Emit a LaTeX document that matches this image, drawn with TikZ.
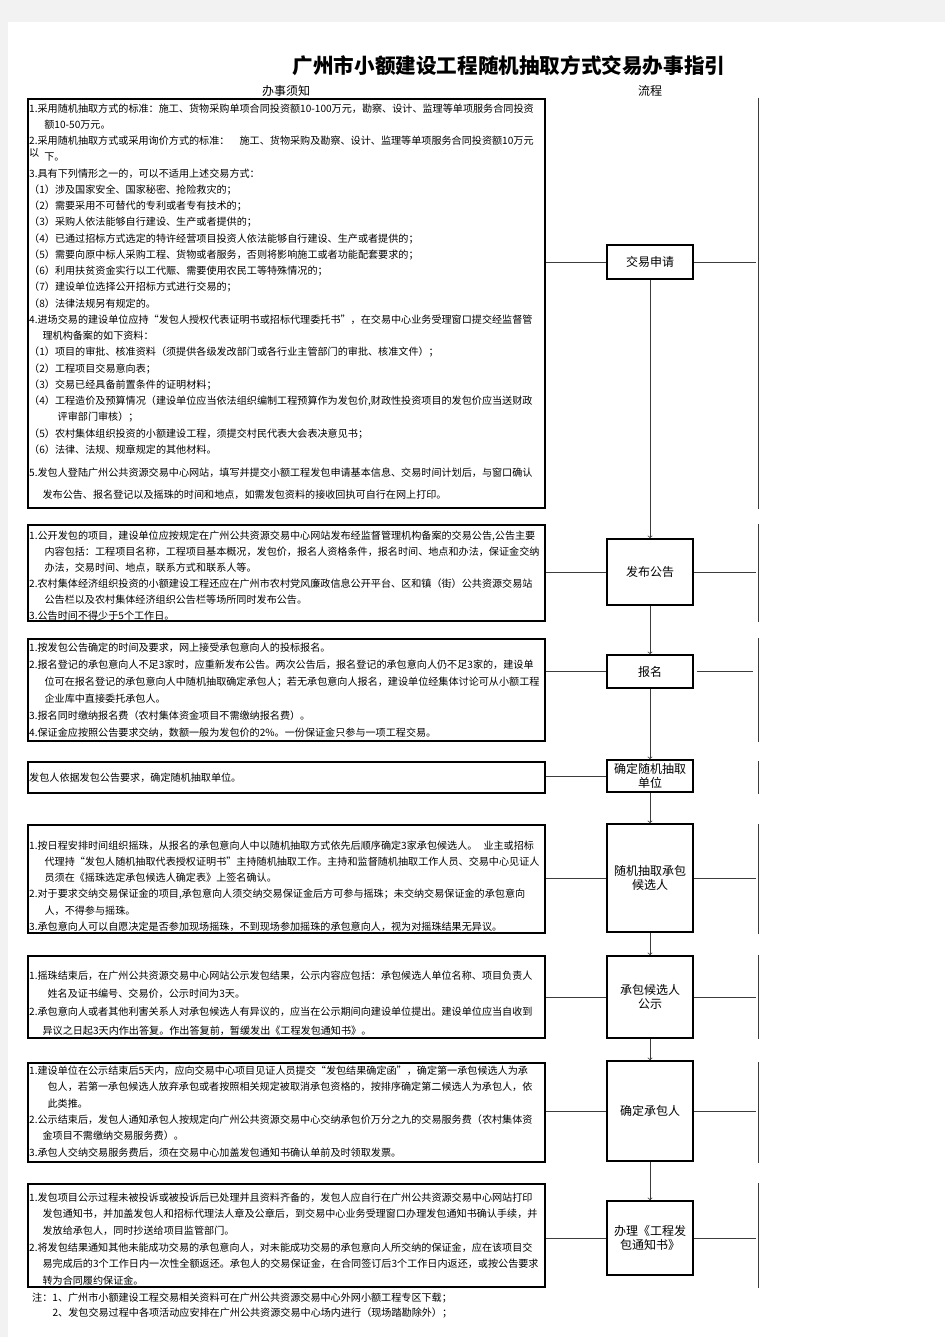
\documentclass[tikz,border=0pt]{standalone}
\usepackage{fontspec}
\setmainfont{Noto Sans CJK SC}

\newcommand{\indt}[1][1.5em]{\hspace*{#1}}

\tikzset{
  notebox/.style={draw=black, line width=1.6pt, minimum width=517, anchor=north west, inner sep=0pt},
  notetext/.style={anchor=north west, inner sep=0pt, align=left, font=\fontsize{10.1}{16.25}\selectfont},
  stepbox/.style={draw=black, line width=1.6pt, fill=white, minimum width=86, inner sep=0pt, align=center, font=\fontsize{12}{14}\selectfont},
  headtext/.style={inner sep=0pt, font=\fontsize{12}{14}\selectfont},
  link/.style={draw={rgb,255:red,60;green,60;blue,60}, line width=0.8pt},
  flowarrow/.style={link, ->},
}

\begin{document}
\begin{tikzpicture}[x=1pt,y=1pt,yscale=-1,xscale=1]
\useasboundingbox (0,0) rectangle (945,1337);
%page margins
\fill [gray!10] (0,0) rectangle (945,1337);
\fill [white] (8,22) rectangle (945,1337);

% Title
\node (title) [inner sep=0pt, font=\fontsize{20.6}{24}\selectfont\bfseries] at (509,66) {广州市小额建设工程随机抽取方式交易办事指引};
\node (headL) [headtext] at (286,91) {办事须知};
\node (headR) [headtext] at (650,91) {流程};

%Shape: notes boxes
\node (b1) [notebox, minimum height=409] at (27,98) {};
\node (b2) [notebox, minimum height=96] at (27,524) {};
\node (b3) [notebox, minimum height=102] at (27,638) {};
\node (b4) [notebox, minimum height=31] at (27,761) {};
\node (b5) [notebox, minimum height=108] at (27,824) {};
\node (b6) [notebox, minimum height=82] at (27,955) {};
\node (b7) [notebox, minimum height=99] at (27,1062) {};
\node (b8) [notebox, minimum height=103] at (27,1183) {};

%Shape: flow steps
\node (f1) [stepbox, minimum height=34] at (650,262) {交易申请};
\node (f2) [stepbox, minimum height=66] at (650,572) {发布公告};
\node (f3) [stepbox, minimum height=33] at (650,671.5) {报名};
\node (f4) [stepbox, minimum height=32] at (650,776) {确定随机抽取\\单位};
\node (f5) [stepbox, minimum height=108] at (650,878) {随机抽取承包\\候选人};
\node (f6) [stepbox, minimum height=82] at (650,997) {承包候选人\\公示};
\node (f7) [stepbox, minimum height=100] at (650,1111) {确定承包人};
\node (f8) [stepbox, minimum height=74] at (650,1238) {办理《工程发\\包通知书》};

\coordinate (rx) at (758,0);
\coordinate (rh) at (756,0);

%Straight Lines: flow arrows
\draw [flowarrow] (f1) -- (f2);
\draw [flowarrow] (f2) -- (f3);
\draw [flowarrow] (f3) -- (f4);
\draw [flowarrow] (f4) -- (f5);
\draw [flowarrow] (f5) -- (f6);
\draw [flowarrow] (f6) -- (f7);
\draw [flowarrow] (f7) -- (f8);

%Straight Lines: notes to steps
\draw [link] (b1.east |- f1.west) -- (f1.west);
\draw [link] (b2.east |- f2.west) -- (f2.west);
\draw [link] (b3.east |- f3.west) -- (f3.west);
\draw [link] (b4.east |- f4.west) -- (f4.west);
\draw [link] (b5.east |- f5.west) -- (f5.west);
\draw [link] (b6.east |- f6.west) -- (f6.west);
\draw [link] (b7.east |- f7.west) -- (f7.west);
\draw [link] (b8.east |- f8.west) -- (f8.west);

%Straight Lines: steps to right column
\draw [link] (f1.east) -- (f1.east -| rh);
\draw [link] (f2.east) -- (f2.east -| rh);
\draw [link] ([xshift=3]f3.east) -- ++(56,0);
\draw [link] (f5.east) -- (f5.east -| rh);
\draw [link] (f6.east) -- (f6.east -| rh);
\draw [link] (f7.east) -- (f7.east -| rh);
\draw [link] (f8.east) -- (f8.east -| rh);

%Straight Lines: right column
\draw [link] (b1.north -| rx) -- (b1.south -| rx);
\draw [link] (b2.north -| rx) -- (b2.south -| rx);
\draw [link] (b3.north -| rx) -- (b3.south -| rx);
\draw [link] (b4.north -| rx) -- (b4.south -| rx);
\draw [link] (b5.north -| rx) -- (b5.south -| rx);
\draw [link] (b6.north -| rx) -- (b6.south -| rx);
\draw [link] (b7.north -| rx) -- (b7.south -| rx);
\draw [link] (b8.north -| rx) -- (b8.south -| rx);

% Text Node
\node (t1) [notetext] at (29,103.5) {1.采用随机抽取方式的标准：施工、货物采购单项合同投资额10-100万元，勘察、设计、监理等单项服务合同投资\\
\indt 额10-50万元。\\
2.采用随机抽取方式或采用询价方式的标准：　施工、货物采购及勘察、设计、监理等单项服务合同投资额10万元\\
\raisebox{4pt}{以}\hspace{5pt}下。\\
3.具有下列情形之一的，可以不适用上述交易方式：\\
（1）涉及国家安全、国家秘密、抢险救灾的；\\
（2）需要采用不可替代的专利或者专有技术的；\\
（3）采购人依法能够自行建设、生产或者提供的；\\
（4）已通过招标方式选定的特许经营项目投资人依法能够自行建设、生产或者提供的；\\
（5）需要向原中标人采购工程、货物或者服务，否则将影响施工或者功能配套要求的；\\
（6）利用扶贫资金实行以工代赈、需要使用农民工等特殊情况的；\\
（7）建设单位选择公开招标方式进行交易的；\\
（8）法律法规另有规定的。\\
4.进场交易的建设单位应持“发包人授权代表证明书或招标代理委托书”，在交易中心业务受理窗口提交经监督管\\
\indt[1.1em] 理机构备案的如下资料：\\
（1）项目的审批、核准资料（须提供各级发改部门或各行业主管部门的审批、核准文件）；\\
（2）工程项目交易意向表；\\
（3）交易已经具备前置条件的证明材料；\\
（4）工程造价及预算情况（建设单位应当依法组织编制工程预算作为发包价,财政性投资项目的发包价应当送财政\\
\indt[2.6em] 评审部门审核）；\\
（5）农村集体组织投资的小额建设工程，须提交村民代表大会表决意见书；\\
（6）法律、法规、规章规定的其他材料。\\[6.7pt]
5.发包人登陆广州公共资源交易中心网站，填写并提交小额工程发包申请基本信息、交易时间计划后，与窗口确认\\[6pt]
\indt[1.1em] 发布公告、报名登记以及摇珠的时间和地点，如需发包资料的接收回执可自行在网上打印。};

% Text Node
\node (t2) [notetext, font=\fontsize{10.1}{16}\selectfont] at (29,530.5) {1.公开发包的项目，建设单位应按规定在广州公共资源交易中心网站发布经监督管理机构备案的交易公告,公告主要\\
\indt[1.3em] 内容包括：工程项目名称，工程项目基本概况，发包价，报名人资格条件，报名时间、地点和办法，保证金交纳\\
\indt[1.3em] 办法，交易时间、地点，联系方式和联系人等。\\
2.农村集体经济组织投资的小额建设工程还应在广州市农村党风廉政信息公开平台、区和镇（街）公共资源交易站\\
\indt[1.3em] 公告栏以及农村集体经济组织公告栏等场所同时发布公告。\\
3.公告时间不得少于5个工作日。};

% Text Node
\node (t3) [notetext, font=\fontsize{10.1}{17}\selectfont] at (29,642.5) {1.按发包公告确定的时间及要求，网上接受承包意向人的投标报名。\\
2.报名登记的承包意向人不足3家时，应重新发布公告。两次公告后，报名登记的承包意向人仍不足3家的，建设单\\
\indt[1.3em] 位可在报名登记的承包意向人中随机抽取确定承包人；若无承包意向人报名，建设单位经集体讨论可从小额工程\\
\indt[1.3em] 企业库中直接委托承包人。\\
3.报名同时缴纳报名费（农村集体资金项目不需缴纳报名费）。\\
4.保证金应按照公告要求交纳，数额一般为发包价的2\%。一份保证金只参与一项工程交易。};

% Text Node
\node (t4) [notetext] at (29,772.5) {发包人依据发包公告要求，确定随机抽取单位。};

% Text Node
\node (t5) [notetext, font=\fontsize{10.1}{16.2}\selectfont] at (29,840.5) {1.按日程安排时间组织摇珠，从报名的承包意向人中以随机抽取方式依先后顺序确定3家承包候选人。\hspace{6pt}业主或招标\\
\indt[1.3em] 代理持“发包人随机抽取代表授权证明书”主持随机抽取工作。主持和监督随机抽取工作人员、交易中心见证人\\
\indt[1.3em] 员须在《摇珠选定承包候选人确定表》上签名确认。\\
2.对于要求交纳交易保证金的项目,承包意向人须交纳交易保证金后方可参与摇珠；未交纳交易保证金的承包意向\\
\indt[1.3em] 人，不得参与摇珠。\\
3.承包意向人可以自愿决定是否参加现场摇珠，不到现场参加摇珠的承包意向人，视为对摇珠结果无异议。};

% Text Node
\node (t6) [notetext, font=\fontsize{10.1}{18.3}\selectfont] at (29,970.5) {1.摇珠结束后，在广州公共资源交易中心网站公示发包结果，公示内容应包括：承包候选人单位名称、项目负责人\\
\indt[1.6em] 姓名及证书编号、交易价，公示时间为3天。\\
2.承包意向人或者其他利害关系人对承包候选人有异议的，应当在公示期间向建设单位提出。建设单位应当自收到\\
\indt[1.1em] 异议之日起3天内作出答复。作出答复前，暂缓发出《工程发包通知书》。};

% Text Node
\node (t7) [notetext, font=\fontsize{10.1}{16.4}\selectfont] at (29,1065.5) {1.建设单位在公示结束后5天内，应向交易中心项目见证人员提交“发包结果确定函”，确定第一承包候选人为承\\
\indt[1.6em] 包人，若第一承包候选人放弃承包或者按照相关规定被取消承包资格的，按排序确定第二候选人为承包人，依\\
\indt[1.6em] 此类推。\\
2.公示结束后，发包人通知承包人按规定向广州公共资源交易中心交纳承包价万分之九的交易服务费（农村集体资\\
\indt[1.1em] 金项目不需缴纳交易服务费）。\\
3.承包人交纳交易服务费后，须在交易中心加盖发包通知书确认单前及时领取发票。};

% Text Node
\node (t8) [notetext, font=\fontsize{10.1}{16.6}\selectfont] at (29,1192.5) {1.发包项目公示过程未被投诉或被投诉后已处理并且资料齐备的，发包人应自行在广州公共资源交易中心网站打印\\
\indt[1.1em] 发包通知书，并加盖发包人和招标代理法人章及公章后，到交易中心业务受理窗口办理发包通知书确认手续，并\\
\indt[1.1em] 发放给承包人，同时抄送给项目监管部门。\\
2.将发包结果通知其他未能成功交易的承包意向人，对未能成功交易的承包意向人所交纳的保证金，应在该项目交\\
\indt[1.1em] 易完成后的3个工作日内一次性全额返还。承包人的交易保证金，在合同签订后3个工作日内返还，或按公告要求\\
\indt[1.1em] 转为合同履约保证金。};

% Text Node
\node (remark) [notetext, font=\fontsize{10.1}{15}\selectfont] at (32,1292.5) {注：1、广州市小额建设工程交易相关资料可在广州公共资源交易中心外网小额工程专区下载；\\
\indt[1.8em] 2、发包交易过程中各项活动应安排在广州公共资源交易中心场内进行（现场踏勘除外）；};

\end{tikzpicture}
\end{document}
